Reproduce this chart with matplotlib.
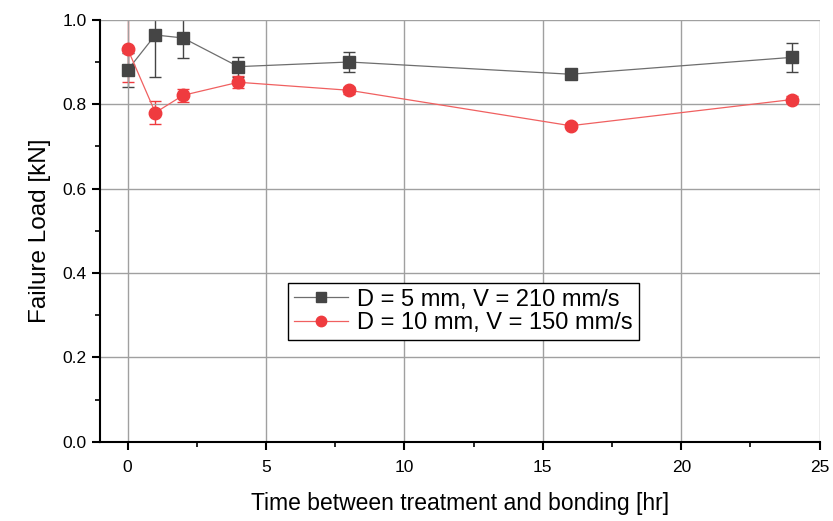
import matplotlib.pyplot as plt
from matplotlib.lines import Line2D
from matplotlib.ticker import MultipleLocator

plt.rcParams['font.family'] = ['Liberation Sans', 'DejaVu Sans']

# Dados
horas = [0, 1, 2, 4, 8, 16, 24]

carga_d5 = [0.881, 0.964, 0.957, 0.889, 0.900, 0.871, 0.911]
erro_d5 = [0.040, 0.100, 0.047, 0.024, 0.024, 0.008, 0.035]

carga_d10 = [0.931, 0.780, 0.821, 0.852, 0.833, 0.749, 0.811]
erro_d10 = [0.078, 0.028, 0.016, 0.014, 0.008, 0.006, 0.008]

rotulo_d5 = "D = 5 mm, V = 210 mm/s"
rotulo_d10 = "D = 10 mm, V = 150 mm/s"

cor_d5_linha, cor_d5_marca = "#6e6e6e", "#454545"
cor_d10_linha, cor_d10_marca = "#f06060", "#ef3b3f"

fig = plt.figure(figsize=(8.33, 5.21), dpi=100)
ax = fig.add_axes([0.120, 0.152, 0.864, 0.810])

# Barras de erro ficam abaixo da grade (como no original)
ax.errorbar(horas, carga_d5, yerr=erro_d5, fmt="none", ecolor=cor_d5_marca,
            elinewidth=1, capsize=4, capthick=1, zorder=0.4)
ax.errorbar(horas, carga_d10, yerr=erro_d10, fmt="none", ecolor=cor_d10_marca,
            elinewidth=1, capsize=4, capthick=1, zorder=0.4)

# Linhas e marcadores
ax.plot(horas, carga_d5, color=cor_d5_linha, lw=0.9, marker="s", ms=9,
        mfc=cor_d5_marca, mec=cor_d5_marca, zorder=3)
ax.plot(horas, carga_d10, color=cor_d10_linha, lw=0.9, marker="o", ms=9,
        mfc=cor_d10_marca, mec=cor_d10_marca, zorder=3)

ax.set_xlim(-1, 25)
ax.set_ylim(0, 1.0)
ax.xaxis.set_major_locator(MultipleLocator(5))
ax.xaxis.set_minor_locator(MultipleLocator(2.5))
ax.yaxis.set_major_locator(MultipleLocator(0.2))
ax.yaxis.set_minor_locator(MultipleLocator(0.1))
ax.yaxis.set_major_formatter(plt.FormatStrFormatter("%.1f"))

ax.grid(True, which="major", color="#a0a0a0", lw=1, zorder=0.5)
ax.set_axisbelow(True)

for lado in ["top", "right"]:
    ax.spines[lado].set_visible(False)
for lado in ["left", "bottom"]:
    ax.spines[lado].set_linewidth(1.5)

ax.tick_params(which="major", direction="out", length=6, width=1.5, labelsize=12.5)
ax.tick_params(axis="x", which="major", pad=7)
ax.tick_params(which="minor", direction="out", length=3.5, width=1.2)

ax.set_xlabel("Time between treatment and bonding [hr]", fontsize=16.5, labelpad=12)
ax.set_ylabel("Failure Load [kN]", fontsize=17.5, labelpad=8)

# Legenda sem as barras de erro
alcas = [
    Line2D([], [], color=cor_d5_linha, lw=0.9, marker="s", ms=7.5,
           mfc=cor_d5_marca, mec=cor_d5_marca),
    Line2D([], [], color=cor_d10_linha, lw=0.9, marker="o", ms=7.5,
           mfc=cor_d10_marca, mec=cor_d10_marca),
]
leg = ax.legend(alcas, [rotulo_d5, rotulo_d10], loc="upper left",
                bbox_to_anchor=(0.261, 0.377), fontsize=17,
                frameon=True, fancybox=False, edgecolor="black", framealpha=1,
                handlelength=2.3, borderpad=0.25, labelspacing=0.05,
                handletextpad=0.4, borderaxespad=0)
leg.get_frame().set_linewidth(1)

fig.savefig("out.png", dpi=100)
